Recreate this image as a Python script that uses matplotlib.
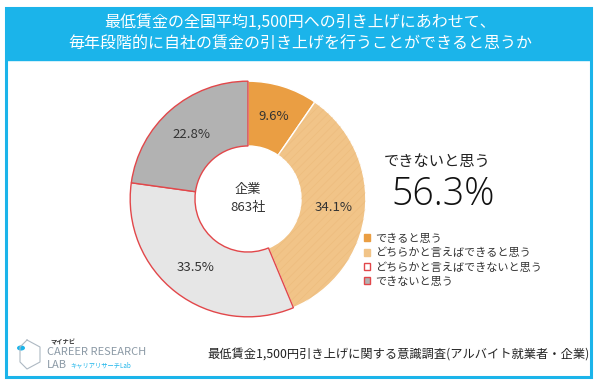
import matplotlib
matplotlib.use("Agg")
import matplotlib.pyplot as plt
import numpy as np
from matplotlib.patches import Rectangle, Patch, Circle, Wedge

plt.rcParams["font.family"] = ["Noto Sans CJK JP", "DejaVu Sans"]
plt.rcParams["hatch.linewidth"] = 0.5

# data
categories = ["できると思う", "どちらかと言えばできると思う",
              "どちらかと言えばできないと思う", "できないと思う"]
values = [9.6, 34.1, 33.5, 22.8]
colors = ["#EA9E43", "#F1C488", "#E6E6E6", "#B2B2B2"]
edge_colors = ["#FFFFFF", "#FFFFFF", "#E2474A", "#E2474A"]
title_lines = ["最低賃金の全国平均1,500円への引き上げにあわせて、",
               "毎年段階的に自社の賃金の引き上げを行うことができると思うか"]
center_label = "企業\n863社"
headline_label = "できないと思う"
headline_value = 56.3
footer = "最低賃金1,500円引き上げに関する意識調査(アルバイト就業者・企業)"

W, H = 600, 385
BLUE = "#1BB4EA"

fig = plt.figure(figsize=(W / 100, H / 100), dpi=100)
fig.patch.set_facecolor("white")


def px(x, y):
    return x / W, 1 - y / H


# frame + title band (behind the donut)
fig.patches.append(Rectangle(px(6, 377), 585 / W, 369 / H, transform=fig.transFigure,
                             facecolor="white", edgecolor=BLUE, linewidth=2.2, zorder=-5))
fig.patches.append(Rectangle(px(6, 60), 585 / W, 52 / H, transform=fig.transFigure,
                             facecolor=BLUE, edgecolor=BLUE, linewidth=1, zorder=-4))
fig.text(*px(300, 22), title_lines[0], color="white", fontsize=11.5,
         ha="center", va="center")
fig.text(*px(300, 44), title_lines[1], color="white", fontsize=11.5,
         ha="center", va="center")

# donut
cx, cy, r = 248, 199, 119
ax = fig.add_axes([(cx - r) / W, (H - cy - r) / H, 2 * r / W, 2 * r / H])
wedges, _ = ax.pie(values, colors=colors, startangle=90, counterclock=False,
                   radius=1.0, wedgeprops=dict(width=0.55, linewidth=1.0))
for w, ec in zip(wedges, edge_colors):
    w.set_edgecolor(ec)
wedges[2].set_zorder(3)
wedges[3].set_zorder(3)
# subtle texture on the light orange wedge
w1 = wedges[1]
ax.add_patch(Wedge((0, 0), 1.0, w1.theta1, w1.theta2, width=0.55,
                   facecolor="none", edgecolor=(0.90, 0.68, 0.42, 0.35), linewidth=0,
                   hatch="////", zorder=2))

for w, v in zip(wedges, values):
    ang = np.deg2rad((w.theta1 + w.theta2) / 2)
    ax.text(0.73 * np.cos(ang), 0.73 * np.sin(ang), f"{v}%", ha="center",
            va="center", fontsize=9.5, color="#333333", zorder=5)
ax.text(0, 0, center_label, ha="center", va="center", fontsize=9.5,
        color="#333333", linespacing=1.5, zorder=5)
ax.set_xlim(-1.01, 1.01)
ax.set_ylim(-1.01, 1.01)
ax.set_aspect("equal")
ax.axis("off")

# headline
fig.text(*px(437, 161), headline_label, fontsize=11, color="#222222",
         ha="center", va="center")
fig.text(*px(443, 195), f"{headline_value}%", fontsize=27, color="#111111",
         ha="center", va="center", family=["Open Sans", "DejaVu Sans"], weight="light")

# legend
handles = [Patch(facecolor=c, edgecolor=(c if e == "#FFFFFF" else e), linewidth=1)
           for c, e in zip(["#EA9E43", "#F1C488", "#FFFFFF", "#B2B2B2"], edge_colors)]
fig.legend(handles, categories, loc="upper left", bbox_to_anchor=px(358, 228),
           frameon=False, fontsize=8, handlelength=0.6, handleheight=0.6,
           handletextpad=0.4, labelspacing=0.35, borderpad=0, labelcolor="#333333")

# footer
fig.text(*px(590, 355), footer, fontsize=8.8, color="#222222", ha="right", va="center")

# logo
fig.text(*px(50, 342), "マイナビ", fontsize=4.5, color="#333333", ha="left",
         va="center", weight="bold")
fig.text(*px(47, 352), "CAREER RESEARCH", fontsize=8, color="#8C9AA6",
         ha="left", va="center")
fig.text(*px(47, 365), "LAB", fontsize=8, color="#8C9AA6", ha="left", va="center")
fig.text(*px(70, 365), "キャリアリサーチLab", fontsize=4.5, color="#1BB4EA",
         ha="left", va="center")
lx = [px(27, 340), px(40, 347), px(40, 362), px(27, 369), px(20, 362), px(20, 347), px(27, 340)]
fig.lines.append(plt.Line2D([p[0] for p in lx], [p[1] for p in lx],
                            transform=fig.transFigure, color="#AEB9C3", linewidth=0.8))
fig.patches.append(Circle(px(21, 348), 4 / W, transform=fig.transFigure,
                          facecolor="#1BB4EA", edgecolor="none"))

fig.savefig("out.png", dpi=100)
